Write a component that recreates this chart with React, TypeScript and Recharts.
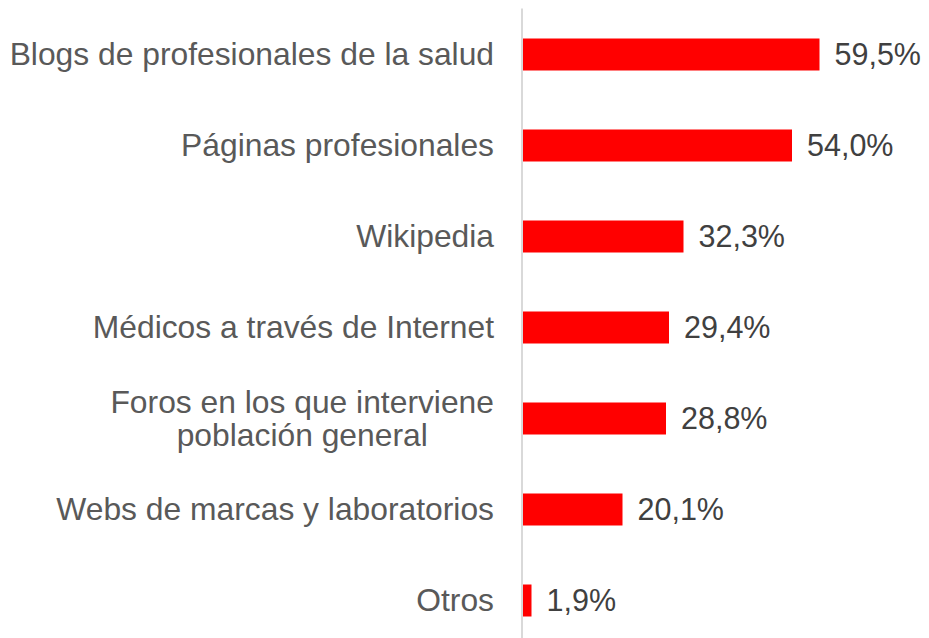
import { Bar, BarChart, LabelList, XAxis, YAxis } from "recharts";

const categories = [
  "Blogs de profesionales de la salud",
  "Páginas profesionales",
  "Wikipedia",
  "Médicos a través de Internet",
  "Foros en los que interviene\npoblación general",
  "Webs de marcas y laboratorios",
  "Otros",
];
const values = [59.5, 54.0, 32.3, 29.4, 28.8, 20.1, 1.9];

const data = categories.map((name, i) => ({ name, value: values[i] }));

const FONT = "'Liberation Sans', Arial, sans-serif";
const LABEL_SIZE = 31.8;
const VALUE_SIZE = 30.5;

let ctx: CanvasRenderingContext2D | null = null;
function measure(text: string) {
  if (!ctx) ctx = document.createElement("canvas").getContext("2d");
  if (!ctx) return text.length * LABEL_SIZE * 0.5;
  ctx.font = `${LABEL_SIZE}px ${FONT}`;
  return ctx.measureText(text).width;
}

function CategoryTick({ x, y, payload }: any) {
  const lines = String(payload.value).split("\n");
  const lineH = 33;
  const right = x - 20;
  if (lines.length === 1) {
    return (
      <text x={right} y={y} dy={11} textAnchor="end" fill="#595959" fontSize={LABEL_SIZE} fontFamily={FONT}>
        {lines[0]}
      </text>
    );
  }
  const w = Math.max(...lines.map(measure));
  const cx = right - w / 2;
  const start = y - ((lines.length - 1) * lineH) / 2 + 11;
  return (
    <text textAnchor="middle" fill="#595959" fontSize={LABEL_SIZE} fontFamily={FONT}>
      {lines.map((l, i) => (
        <tspan key={i} x={cx} y={start + i * lineH}>
          {l}
        </tspan>
      ))}
    </text>
  );
}

export default function App() {
  return (
    <BarChart
      width={921}
      height={640}
      data={data}
      layout="vertical"
      margin={{ top: 0.5, right: 7, bottom: 2.5, left: 0 }}
      barCategoryGap={29.5}
    >
      <XAxis type="number" domain={[0, 80]} hide />
      <YAxis
        type="category"
        dataKey="name"
        width={514}
        axisLine={{ stroke: "#d9d9d9", strokeWidth: 2 }}
        tickLine={false}
        tick={<CategoryTick />}
        interval={0}
      />
      <Bar dataKey="value" fill="#ff0000" barSize={32} isAnimationActive={false}>
        <LabelList
          dataKey="value"
          position="right"
          offset={15}
          fill="#404040"
          fontSize={VALUE_SIZE}
          fontFamily={FONT}
          formatter={(v: any) => `${Number(v).toFixed(1).replace(".", ",")}%`}
        />
      </Bar>
    </BarChart>
  );
}
